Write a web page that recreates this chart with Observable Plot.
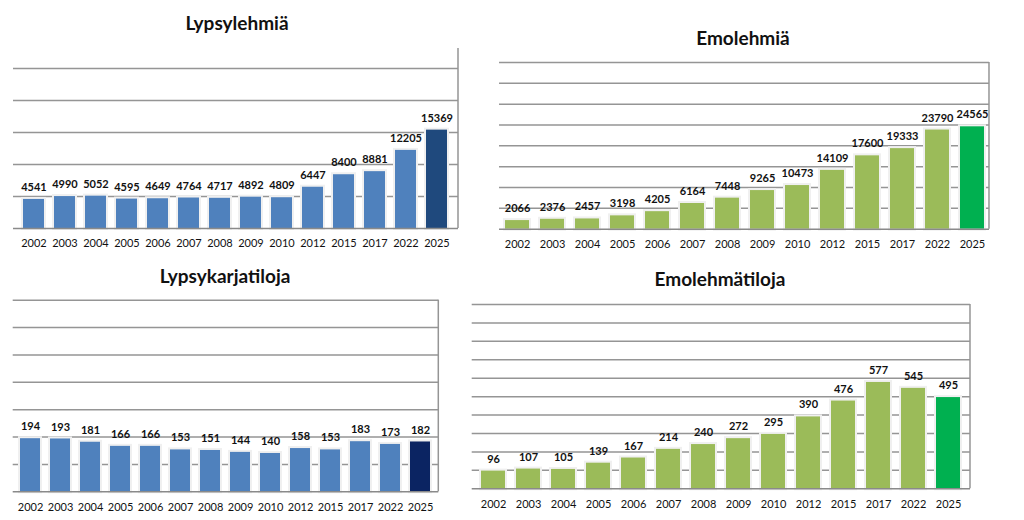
<!DOCTYPE html>
<html>
<head>
<meta charset="utf-8">
<script src="https://cdn.jsdelivr.net/npm/d3@7"></script>
<script src="https://cdn.jsdelivr.net/npm/@observablehq/plot@0.6"></script>
<style>
  html, body { margin: 0; padding: 0; background: #fff; }
  #root { position: relative; width: 1024px; height: 520px; overflow: hidden; background: #fff; font-family: Lato, "Open Sans", sans-serif; }
  .title { position: absolute; transform: translate(-50%, -50%); font-weight: bold; font-size: 19px; color: #111; white-space: nowrap; }
  .panel { position: absolute; }
</style>
</head>
<body>
<div id="root"></div>
<script>
// ---- data ----
const years = ["2002","2003","2004","2005","2006","2007","2008","2009","2010","2012","2015","2017","2022","2025"];
const lypsylehmia = [4541,4990,5052,4595,4649,4764,4717,4892,4809,6447,8400,8881,12205,15369];
const emolehmia = [2066,2376,2457,3198,4205,6164,7448,9265,10473,14109,17600,19333,23790,24565];
const lypsykarjatiloja = [194,193,181,166,166,153,151,144,140,158,153,183,173,182];
const emolehmatiloja = [96,107,105,139,167,214,240,272,295,390,476,577,545,495];

const titles = ["Lypsylehmiä", "Emolehmiä", "Lypsykarjatiloja", "Emolehmätiloja"];
const grid1 = [5000,10000,15000,20000,25000];
const grid2 = [5000,10000,15000,20000,25000,30000,35000,40000];
const grid3 = [100,200,300,400,500,600,700];
const grid4 = [100,200,300,400,500,600,700,800,900,1000];
const yMax = [28125, 40000, 700, 1000];

// ---- layout / style ----
const panels = [
  {values: lypsylehmia, grid: grid1, max: yMax[0], title: titles[0], base: "#4F81BD", last: "#1F497D",
   left: 0, top: 40, width: 470, mL: 13, mR: 12, mT: 8, plotH: 180, tx: 237, ty: 22},
  {values: emolehmia, grid: grid2, max: yMax[1], title: titles[1], base: "#9BBB59", last: "#00B050",
   left: 490, top: 50, width: 534, mL: 9, mR: 35, mT: 12, plotH: 166.7, tx: 743, ty: 37},
  {values: lypsykarjatiloja, grid: grid3, max: yMax[2], title: titles[2], base: "#4F81BD", last: "#0B2462",
   left: 0, top: 290, width: 450, mL: 12.7, mR: 11.7, mT: 9.7, plotH: 191.6, tx: 225, ty: 275},
  {values: emolehmatiloja, grid: grid4, max: yMax[3], title: titles[3], base: "#9BBB59", last: "#00B050",
   left: 460, top: 295, width: 564, mL: 11.7, mR: 54, mT: 9, plotH: 184.3, tx: 720, ty: 278}
];

const root = document.getElementById("root");
const gridColor = "#959595";

for (const p of panels) {
  const data = years.map((year, i) => ({year, value: p.values[i], color: i === years.length - 1 ? p.last : p.base}));
  const mB = 27;
  const height = p.mT + p.plotH + mB;

  const rightLine = (index, scales, values, dims) => {
    const g = d3.create("svg:g");
    g.append("line")
      .attr("x1", dims.width - dims.marginRight).attr("x2", dims.width - dims.marginRight)
      .attr("y1", dims.marginTop).attr("y2", dims.height - dims.marginBottom)
      .attr("stroke", gridColor).attr("stroke-width", 1.5);
    return g.node();
  };

  const chart = Plot.plot({
    width: p.width,
    height,
    marginLeft: p.mL,
    marginRight: p.mR,
    marginTop: p.mT,
    marginBottom: mB,
    style: {fontFamily: "Lato, 'Open Sans', sans-serif", fontSize: "11px", color: "#111", background: "transparent", overflow: "visible"},
    x: {domain: years, paddingInner: 0.32, paddingOuter: 0.16, label: null},
    y: {domain: [0, p.max], axis: null},
    color: {type: "identity"},
    marks: [
      Plot.ruleY(p.grid, {stroke: gridColor, strokeWidth: 1.5}),
      rightLine,
      Plot.barY(data, {x: "year", y: "value", fill: "#f0f0f0", stroke: "#f0f0f0", strokeWidth: 4}),
      Plot.barY(data, {x: "year", y: "value", fill: "color"}),
      Plot.ruleY([0], {stroke: "#8a8a8a", strokeWidth: 1.5}),
      Plot.axisX({tickSize: 0, tickPadding: 11, fontSize: 11, label: null}),
      Plot.text(data, {x: "year", y: "value", text: d => String(d.value), dy: -12, fontWeight: "bold", fontSize: 11, fill: "#111"})
    ]
  });
  chart.classList.add("panel");
  chart.style.left = p.left + "px";
  chart.style.top = p.top + "px";
  root.appendChild(chart);

  const t = document.createElement("div");
  t.className = "title";
  t.textContent = p.title;
  t.style.left = p.tx + "px";
  t.style.top = p.ty + "px";
  root.appendChild(t);
}
</script>
</body>
</html>
